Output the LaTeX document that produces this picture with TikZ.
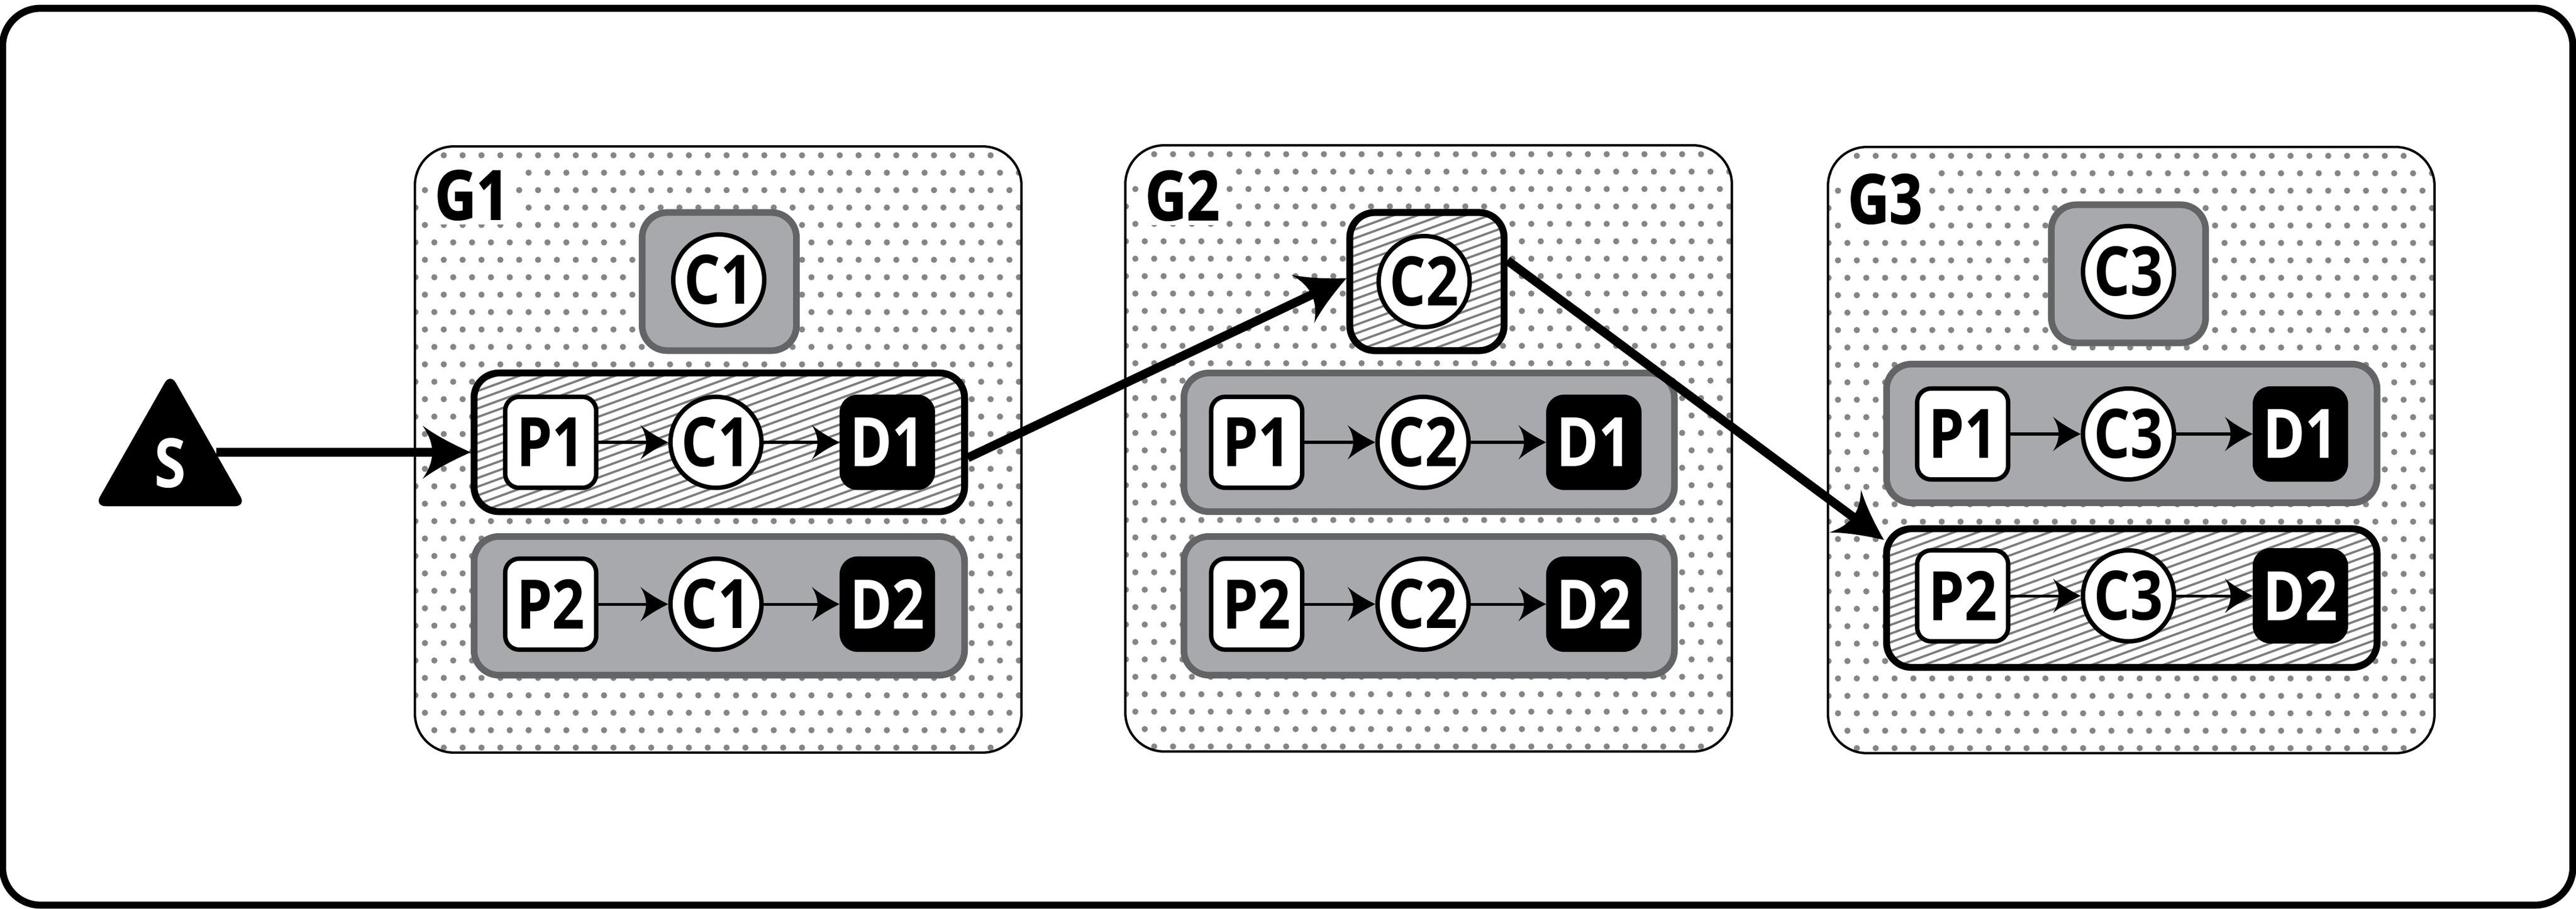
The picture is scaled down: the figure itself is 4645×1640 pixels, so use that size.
\documentclass[tikz,border=0pt]{standalone}
\usepackage{fontspec}
\setmainfont{Open Sans}[FakeStretch=0.84]
\newfontfamily\groupface{Open Sans}[FakeStretch=0.84, FakeBold=1.5]
\usepackage{tikz}
\usetikzlibrary{arrows.meta, calc, shapes.geometric}

\definecolor{dotgray}{HTML}{858585}
\definecolor{hatchgray}{HTML}{7C7D80}
\definecolor{boxfill}{HTML}{A7A9AC}
\definecolor{boxline}{HTML}{636466}

% arrow head with hollow curved sides
\pgfdeclarearrow{
  name=Swept,
  parameters={\the\pgfarrowlength,\the\pgfarrowwidth},
  setup code={
    \pgfarrowssettipend{0pt}
    \pgfarrowssetbackend{-\pgfarrowlength}
    \pgfarrowssetlineend{-0.78\pgfarrowlength}
    \pgfarrowssavethe\pgfarrowlength
    \pgfarrowssavethe\pgfarrowwidth
  },
  drawing code={
    \pgfpathmoveto{\pgfqpoint{0pt}{0pt}}
    \pgfpathcurveto{\pgfqpoint{-0.35\pgfarrowlength}{0.14\pgfarrowwidth}}
      {\pgfqpoint{-0.7\pgfarrowlength}{0.3\pgfarrowwidth}}
      {\pgfqpoint{-\pgfarrowlength}{0.5\pgfarrowwidth}}
    \pgfpathcurveto{\pgfqpoint{-0.85\pgfarrowlength}{0.3\pgfarrowwidth}}
      {\pgfqpoint{-0.8\pgfarrowlength}{0.15\pgfarrowwidth}}
      {\pgfqpoint{-0.8\pgfarrowlength}{0pt}}
    \pgfpathcurveto{\pgfqpoint{-0.8\pgfarrowlength}{-0.15\pgfarrowwidth}}
      {\pgfqpoint{-0.85\pgfarrowlength}{-0.3\pgfarrowwidth}}
      {\pgfqpoint{-\pgfarrowlength}{-0.5\pgfarrowwidth}}
    \pgfpathcurveto{\pgfqpoint{-0.7\pgfarrowlength}{-0.3\pgfarrowwidth}}
      {\pgfqpoint{-0.35\pgfarrowlength}{-0.14\pgfarrowwidth}}
      {\pgfqpoint{0pt}{0pt}}
    \pgfpathclose
    \pgfusepathqfill
  },
  defaults={length=10pt, width=10pt}
}

\tikzset{
  bigfont/.style={font=\fontsize{35}{35}\selectfont\bfseries},
  frame/.style={draw, line width=0.127cm, rounded corners=0.68cm, minimum width=46.32cm, minimum height=16.17cm},
  dotted area/.style={path picture={
    \foreach \r in {0,...,35} \foreach \c in {-2,...,31}
      \fill[dotgray] ([shift={({\c*34+mod(\r,2)*17+52},{\r*31.43+16})}]path picture bounding box.north west) circle (0.056cm);
  }},
  hatched/.style={path picture={
    \foreach \k in {-45,...,45}
      \draw[hatchgray, line width=0.04cm] ($(path picture bounding box.center)+(-500,{\k*15.7+182})$) -- ++(1000,-364);
  }},
  group/.style={draw, fill=white, line width=0.043cm, rounded corners=0.7cm, minimum width=10.93cm, minimum height=10.93cm, dotted area},
  grouplabel/.style={fill=white, font=\fontsize{35}{35}\groupface\bfseries, inner sep=0pt, minimum width=1.48cm, minimum height=1.06cm},
  greybox/.style={draw=boxline, fill=boxfill, line width=0.12cm, rounded corners=0.45cm},
  markbox/.style={draw=black, fill=white, line width=0.125cm, rounded corners=0.45cm, hatched},
  topsize/.style={minimum width=2.78cm, minimum height=2.49cm},
  rowsize/.style={minimum width=8.84cm, minimum height=2.5cm},
  prod/.style={draw, fill=white, line width=0.08cm, rounded corners=0.25cm, minimum size=1.64cm, inner sep=0pt, bigfont},
  cons/.style={draw, fill=white, circle, line width=0.08cm, minimum size=1.64cm, inner sep=0pt, bigfont},
  dest/.style={draw, fill=black, text=white, line width=0.08cm, rounded corners=0.28cm, minimum size=1.64cm, inner sep=0pt, bigfont},
  source/.style={isosceles triangle, shape border rotate=90, isosceles triangle stretches, fill=black, rounded corners=0.2cm, minimum width=2.73cm, minimum height=2.4cm, inner sep=0pt},
  flow/.style={line width=0.05cm, -{Swept[length=0.5cm, width=0.62cm]}},
  route/.style={line width=0.16cm, -{Swept[length=0.87cm, width=0.96cm]}}
}

\begin{document}
\begin{tikzpicture}[x=0.01cm, y=-0.01cm]
  \useasboundingbox (0,0) rectangle (4645,1640);
  \node[frame] (frame) at (2322,824) {};

  % groups
  \node[group] (G1) at (1295,811) {};
  \node[group] (G2) at (2576,809) {};
  \node[group] (G3) at (3843,812) {};
  \node[grouplabel] (L1) at (851,352) {G1};
  \node[grouplabel] (L2) at (2132,353) {G2};
  \node[grouplabel] (L3) at (3399,359) {G3};

  % first group
  \node[greybox, topsize] (T1) at (1297,508) {};
  \node[cons] (TC1) at (1296,505) {C1};
  \node[markbox, rowsize] (R11) at (1297,798) {};
  \node[prod] (P11) at (993,798) {P1};
  \node[cons] (C11) at (1291,798) {C1};
  \node[dest] (D11) at (1600,798) {D1};
  \node[greybox, rowsize] (R12) at (1297,1093) {};
  \node[prod] (P12) at (993,1090) {P2};
  \node[cons] (C12) at (1291,1090) {C1};
  \node[dest] (D12) at (1600,1090) {D2};

  % second group
  \node[markbox, topsize] (T2) at (2573,508) {};
  \node[cons] (TC2) at (2568,508) {C2};
  \node[greybox, rowsize] (R21) at (2577,798) {};
  \node[prod] (P21) at (2266,798) {P1};
  \node[cons] (C21) at (2566,798) {C2};
  \node[dest] (D21) at (2874,798) {D1};
  \node[greybox, rowsize] (R22) at (2577,1093) {};
  \node[prod] (P22) at (2266,1090) {P2};
  \node[cons] (C22) at (2566,1090) {C2};
  \node[dest] (D22) at (2874,1090) {D2};

  % third group
  \node[greybox, topsize] (T3) at (3838,494) {};
  \node[cons] (TC3) at (3838,490) {C3};
  \node[greybox, rowsize] (R31) at (3844,782) {};
  \node[prod] (P31) at (3539,783) {P1};
  \node[cons] (C31) at (3838,783) {C3};
  \node[dest] (D31) at (4148,783) {D1};
  \node[markbox, rowsize] (R32) at (3844,1079) {};
  \node[prod] (P32) at (3539,1075) {P2};
  \node[cons] (C32) at (3838,1075) {C3};
  \node[dest] (D32) at (4148,1075) {D2};

  \foreach \g in {11,12,21,22,31,32} {
    \draw[flow] (P\g) -- (C\g);
    \draw[flow] (C\g) -- (D\g);
  }

  % source and routes
  \node[source, bigfont, text=white, anchor=lower side] (S) at (307,914) {S};
  \coordinate (Sout) at (390,816);
  \coordinate (R11in) at (849,816);
  \coordinate (R11out) at (1745,826);
  \coordinate (T2in) at (2428,502);
  \coordinate (T2out) at (2718,470);
  \coordinate (R32in) at (3397,974);
  \draw[route] (Sout) -- (R11in);
  \draw[route] (R11out) -- (T2in);
  \draw[route] (T2out) -- (R32in);
\end{tikzpicture}
\end{document}
